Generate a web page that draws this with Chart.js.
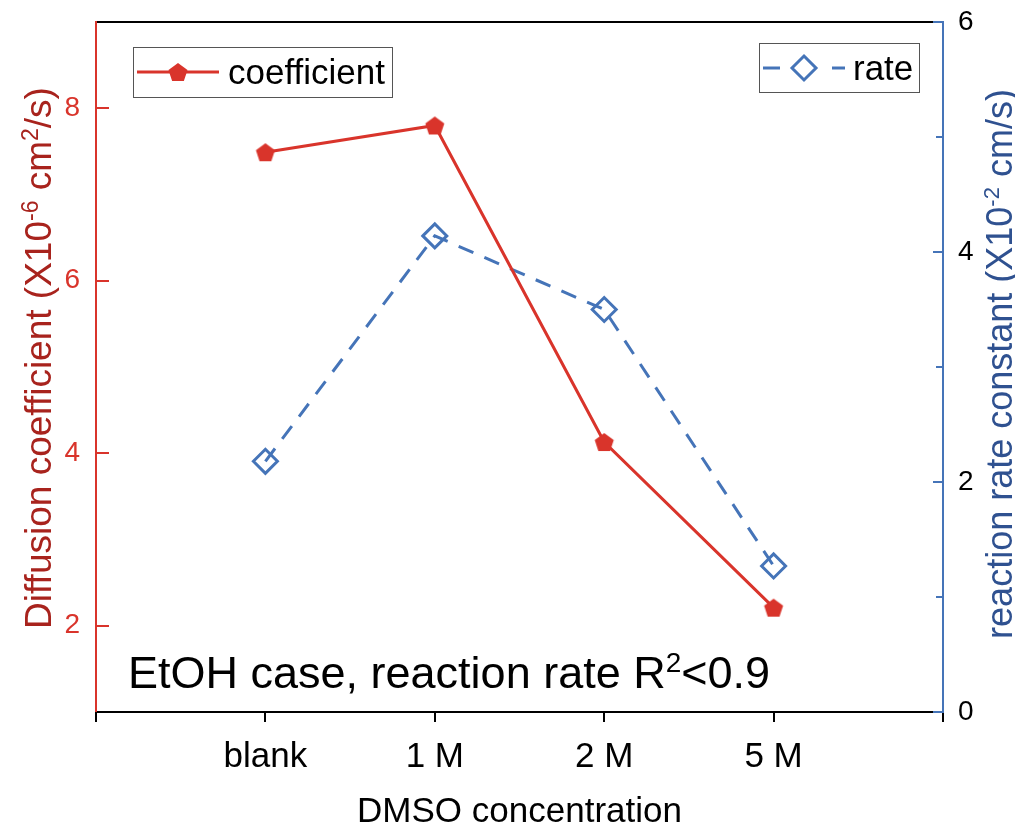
<!DOCTYPE html>
<html>
<head>
<meta charset="utf-8">
<script src="https://cdn.jsdelivr.net/npm/chart.js"></script>
<style>
  html, body { margin: 0; padding: 0; background: #fff; }
</style>
</head>
<body>
<canvas id="grafico" width="1015" height="826"></canvas>
<script>
// dados
const categorias = ['blank', '1 M', '2 M', '5 M'];
const coeficiente = [7.49, 7.80, 4.13, 2.21];
const taxa = [2.18, 4.14, 3.50, 1.27];
const ticksEsquerda = [2, 4, 6, 8];
const ticksDireita = [0, 1, 2, 3, 4, 5, 6];

const VERMELHO = '#d9342b';
const AZUL = '#4574b8';
const FONTE = '"Liberation Sans", Arial, sans-serif';

// marcador pentágono (Chart.js não tem esse pointStyle)
function criarPentagono(raio, cor) {
  const tam = Math.ceil(raio * 2) + 2;
  const c = document.createElement('canvas');
  c.width = tam;
  c.height = tam;
  const g = c.getContext('2d');
  g.fillStyle = cor;
  g.beginPath();
  for (let i = 0; i < 5; i++) {
    const a = -Math.PI / 2 + i * 2 * Math.PI / 5;
    const px = tam / 2 + raio * Math.cos(a);
    const py = tam / 2 + raio * Math.sin(a) + 1;
    if (i === 0) g.moveTo(px, py); else g.lineTo(px, py);
  }
  g.closePath();
  g.fill();
  return c;
}
const pentagono = criarPentagono(10, VERMELHO);

// texto com sobrescritos: partes = [[texto, sobrescrito?], ...]
function textoRico(ctx, partes, tam, x, y, rotacao, alinhamento, cor) {
  ctx.save();
  ctx.translate(x, y);
  ctx.rotate(rotacao);
  ctx.fillStyle = cor;
  ctx.textBaseline = 'alphabetic';
  ctx.textAlign = 'left';
  const fonteN = tam + 'px ' + FONTE;
  const fonteS = Math.round(tam * 0.62) + 'px ' + FONTE;
  let larg = 0;
  partes.forEach(([t, sup]) => {
    ctx.font = sup ? fonteS : fonteN;
    larg += ctx.measureText(t).width;
  });
  let cx = alinhamento === 'left' ? 0 : -larg / 2;
  partes.forEach(([t, sup]) => {
    ctx.font = sup ? fonteS : fonteN;
    ctx.fillText(t, cx, sup ? -tam * 0.36 : 0);
    cx += ctx.measureText(t).width;
  });
  ctx.restore();
}

function linha(ctx, x1, y1, x2, y2, cor, larg) {
  ctx.beginPath();
  ctx.strokeStyle = cor;
  ctx.lineWidth = larg;
  ctx.moveTo(x1, y1);
  ctx.lineTo(x2, y2);
  ctx.stroke();
}

// molduras, marcas dos eixos, legendas e textos
const extras = {
  id: 'extras',
  afterDraw(chart) {
    const ctx = chart.ctx;
    const a = chart.chartArea;
    const sx = chart.scales.x, sy = chart.scales.y, sy1 = chart.scales.y1;
    ctx.save();
    ctx.setLineDash([]);

    // eixo x e topo
    linha(ctx, a.left, a.top, a.right, a.top, '#000', 2);
    linha(ctx, a.left, a.bottom, a.right, a.bottom, '#000', 2);
    sx.ticks.forEach(t => {
      const px = Math.round(sx.getPixelForValue(t.value));
      linha(ctx, px, a.bottom, px, a.bottom + 10, '#000', 2);
    });

    // eixo esquerdo
    linha(ctx, a.left, a.top - 1, a.left, a.bottom, VERMELHO, 2);
    ticksEsquerda.forEach(v => {
      const py = Math.round(sy.getPixelForValue(v));
      linha(ctx, a.left, py, a.left + 13, py, VERMELHO, 2);
    });

    // eixo direito
    linha(ctx, a.right, a.top - 1, a.right, a.bottom + 1, AZUL, 2);
    ticksDireita.forEach(v => {
      const py = Math.round(sy1.getPixelForValue(v));
      linha(ctx, a.right, py, a.right - (v % 2 === 0 ? 10 : 7), py, AZUL, 2);
    });

    // legenda 1
    ctx.strokeStyle = '#555';
    ctx.lineWidth = 1;
    ctx.strokeRect(133.5, 47.5, 259, 50);
    linha(ctx, 137, 72, 219, 72, VERMELHO, 3);
    ctx.drawImage(pentagono, 178 - pentagono.width / 2, 72 - pentagono.height / 2);
    ctx.fillStyle = '#000';
    ctx.font = '35px ' + FONTE;
    ctx.textAlign = 'left';
    ctx.textBaseline = 'alphabetic';
    ctx.fillText('coefficient', 228, 84);

    // legenda 2
    ctx.strokeStyle = '#555';
    ctx.lineWidth = 1;
    ctx.strokeRect(759.5, 43.5, 160, 49);
    linha(ctx, 763, 68, 780, 68, AZUL, 3);
    linha(ctx, 832, 68, 845, 68, AZUL, 3);
    ctx.beginPath();
    ctx.strokeStyle = AZUL;
    ctx.lineWidth = 3;
    ctx.moveTo(804, 56); ctx.lineTo(816, 68); ctx.lineTo(804, 80); ctx.lineTo(792, 68);
    ctx.closePath();
    ctx.stroke();
    ctx.fillStyle = '#000';
    ctx.fillText('rate', 853, 80);

    // anotação
    textoRico(ctx, [['EtOH case, reaction rate R', false], ['2', true], ['<0.9', false]],
      45, 128, 688, 0, 'left', '#000');

    // títulos dos eixos
    textoRico(ctx, [['Diffusion coefficient (X10', false], ['-6', true], [' cm', false], ['2', true], ['/s)', false]],
      37, 51, 358, -Math.PI / 2, 'center', '#a8231d');
    textoRico(ctx, [['reaction rate constant (X10', false], ['-2', true], [' cm/s)', false]],
      36, 1012, 364, -Math.PI / 2, 'center', '#2f5190');
    ctx.font = '35px ' + FONTE;
    ctx.fillStyle = '#000';
    ctx.textAlign = 'center';
    ctx.fillText('DMSO concentration', (a.left + a.right) / 2, 822);
    ctx.restore();
  }
};

const grafico = new Chart(document.getElementById('grafico').getContext('2d'), {
  type: 'line',
  data: {
    datasets: [{
      label: 'coefficient',
      data: coeficiente.map((v, i) => ({ x: i, y: v })),
      yAxisID: 'y',
      borderColor: VERMELHO,
      borderWidth: 3,
      pointStyle: pentagono,
      pointRadius: 10,
      pointHoverRadius: 10,
      tension: 0
    }, {
      label: 'rate',
      data: taxa.map((v, i) => ({ x: i, y: v })),
      yAxisID: 'y1',
      borderColor: AZUL,
      borderWidth: 3,
      borderDash: [16, 12],
      pointStyle: 'rectRot',
      pointRadius: 12,
      pointHoverRadius: 12,
      pointBorderWidth: 3,
      pointBackgroundColor: 'rgba(0,0,0,0)',
      pointBorderColor: AZUL,
      tension: 0
    }]
  },
  options: {
    responsive: false,
    animation: false,
    devicePixelRatio: 1,
    layout: { padding: { top: 22, left: 0, right: 0, bottom: 0 } },
    plugins: { legend: { display: false }, tooltip: { enabled: false } },
    scales: {
      x: {
        type: 'linear',
        min: -1,
        max: categorias.length,
        grid: { display: false },
        border: { display: false },
        afterBuildTicks: s => {
          s.ticks = [];
          for (let v = -1; v <= categorias.length; v++) s.ticks.push({ value: v });
        },
        ticks: {
          callback: v => categorias[v] ?? '',
          color: '#000',
          font: { size: 35, family: FONTE },
          padding: 16,
          maxRotation: 0,
          autoSkip: false
        },
        afterFit: s => { s.height = 114; s.paddingLeft = 0; s.paddingRight = 0; }
      },
      y: {
        position: 'left',
        min: 1,
        max: 9,
        grid: { display: false },
        border: { display: false },
        afterBuildTicks: s => { s.ticks = ticksEsquerda.map(v => ({ value: v })); },
        ticks: { color: VERMELHO, font: { size: 28, family: FONTE }, padding: 8 },
        afterFit: s => { s.width = 96; s.paddingTop = 0; s.paddingBottom = 0; }
      },
      y1: {
        position: 'right',
        min: 0,
        max: 6,
        grid: { display: false },
        border: { display: false },
        afterBuildTicks: s => { s.ticks = ticksDireita.map(v => ({ value: v })); },
        ticks: {
          color: '#000',
          font: { size: 28, family: FONTE },
          padding: 7,
          callback: v => (v % 2 === 0 ? v : '')
        },
        afterFit: s => { s.width = 72; s.paddingTop = 0; s.paddingBottom = 0; }
      }
    }
  },
  plugins: [extras]
});
</script>
</body>
</html>
